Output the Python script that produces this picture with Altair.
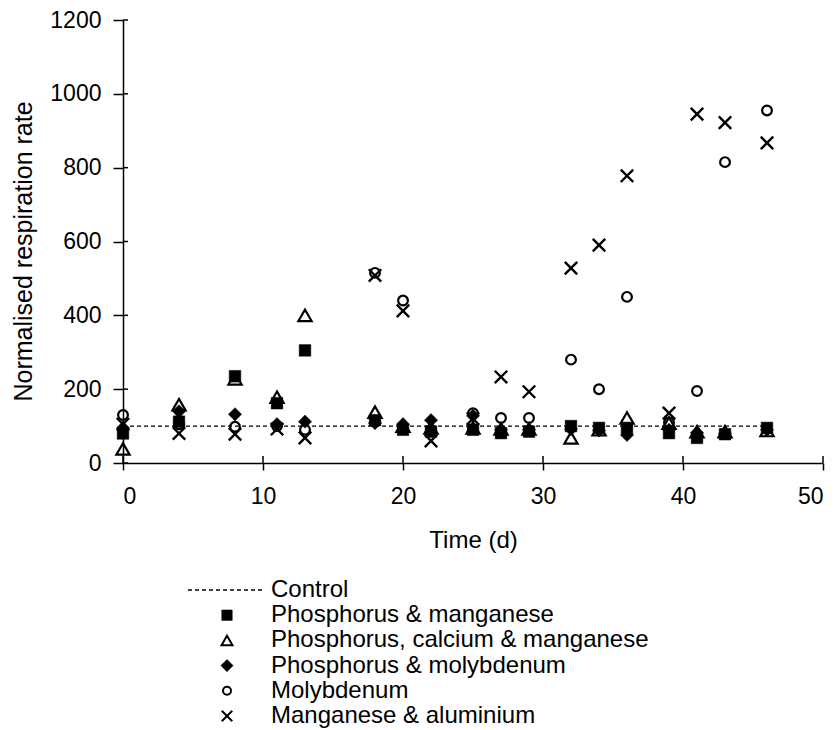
import altair as alt
import pandas as pd

# ---- data ----
times = [0, 4, 8, 11, 13, 18, 20, 22, 25, 27, 29, 32, 34, 36, 39, 41, 43, 46]
p_mn = [80, 112, 235, 162, 305, 116, 90, 85, 90, 81, 85, 100, 95, 95, 81, 68, 78, 95]
p_ca_mn = [38, 158, 228, 178, 400, 138, 100, 95, 95, 92, 92, 68, 90, 122, 108, 85, 85, 88]
p_mo = [95, 140, 132, 105, 112, 108, 105, 116, 128, 90, 90, 92, 88, 76, 90, 82, 80, 90]
mo = [130, 105, 98, 100, 90, 515, 440, 90, 135, 122, 122, 280, 200, 450, 110, 195, 815, 955]
mn_al = [105, 80, 78, 92, 68, 508, 412, 60, 120, 233, 193, 528, 590, 778, 135, 945, 922, 867]

control_t = [0, 46]
control_v = [100, 100]

x_ticks = [0, 10, 20, 30, 40, 50]
y_ticks = [0, 200, 400, 600, 800, 1000, 1200]

legend_labels = [
    "Control",
    "Phosphorus & manganese",
    "Phosphorus, calcium & manganese",
    "Phosphorus & molybdenum",
    "Molybdenum",
    "Manganese & aluminium",
]

FONT = "Liberation Sans"
X_PATH = "M-1,-1L1,1M-1,1L1,-1"

xscale = alt.Scale(domain=[0, 50], nice=False)
yscale = alt.Scale(domain=[0, 1200], nice=False)

x_axis = alt.Axis(
    values=x_ticks, format="d", tickSize=7, tickWidth=1.5, tickColor="black",
    domainColor="black", domainWidth=1.5, grid=False,
    labelFont=FONT, labelFontSize=23, labelColor="black", labelPadding=15,
    title="Time (d)", titleFont=FONT, titleFontSize=24, titleFontWeight="normal",
    titleColor="black", titlePadding=20,
)
y_axis = alt.Axis(
    values=y_ticks, format="d", tickSize=10, tickWidth=1.5, tickColor="black",
    domainColor="black", domainWidth=1.5, grid=False,
    labelFont=FONT, labelFontSize=23, labelColor="black", labelPadding=12,
    title="Normalised respiration rate", titleFont=FONT, titleFontSize=25,
    titleFontWeight="normal", titleColor="black", titlePadding=13, titleY=231,
)

X = lambda f: alt.X(f, scale=xscale, axis=x_axis)
Y = lambda f: alt.Y(f, scale=yscale, axis=y_axis)


def series_df(vals):
    return pd.DataFrame({"t": times, "v": vals})


ctrl = alt.Chart(pd.DataFrame({"t": control_t, "v": control_v})).mark_line(
    color="black", strokeWidth=1.3, strokeDash=[4, 3]
).encode(x=X("t:Q"), y=Y("v:Q"))


def pts(vals, shape, filled, size, sw=2.2):
    kw = dict(shape=shape, size=size, opacity=1)
    if filled:
        kw.update(filled=True, fill="black", stroke="black", strokeWidth=0.5)
    else:
        kw.update(filled=False, stroke="black", strokeWidth=sw)
    return alt.Chart(series_df(vals)).mark_point(**kw).encode(x=X("t:Q"), y=Y("v:Q"))


tri = pts(p_ca_mn, "triangle-up", False, 175)
circ = pts(mo, "circle", False, 95)
xs = pts(mn_al, X_PATH, False, 155, 2.4)
dia = pts(p_mo, "diamond", True, 175)
sq = pts(p_mn, "square", True, 135)

ytick_in = alt.Chart(pd.DataFrame({"v": y_ticks})).mark_rule(
    color="black", strokeWidth=1.5
).encode(y=Y("v:Q"), x=alt.value(0), x2=alt.value(5))

xtick_in = alt.Chart(pd.DataFrame({"t": x_ticks})).mark_rule(
    color="black", strokeWidth=1.5
).encode(x=X("t:Q"), y=alt.value(436), y2=alt.value(443))

data_layer = alt.layer(ctrl, ytick_in, xtick_in, tri, circ, xs, dia, sq)

# ---- manual legend below the plot ----
leg_df = pd.DataFrame({"row": list(range(len(legend_labels))), "label": legend_labels})
rowscale = alt.Scale(domain=[0, 5], range=[570, 696])

leg_text = alt.Chart(leg_df).mark_text(
    align="left", baseline="middle", font=FONT, fontSize=24, color="black"
).encode(
    x=alt.value(148), y=alt.Y("row:Q", scale=rowscale, axis=None), text="label:N"
)

leg_line = alt.Chart(leg_df[leg_df.row == 0]).mark_rule(
    color="black", strokeWidth=1.3, strokeDash=[4, 3]
).encode(x=alt.value(65), x2=alt.value(139), y=alt.Y("row:Q", scale=rowscale, axis=None))


def leg_sym(row, shape, filled, size, sw=2.0):
    kw = dict(shape=shape, size=size, opacity=1)
    if filled:
        kw.update(filled=True, fill="black", stroke="black", strokeWidth=0.5)
    else:
        kw.update(filled=False, stroke="black", strokeWidth=sw)
    return alt.Chart(leg_df[leg_df.row == row]).mark_point(**kw).encode(
        x=alt.value(104), y=alt.Y("row:Q", scale=rowscale, axis=None)
    )


legend_layer = alt.layer(
    leg_line,
    leg_sym(1, "square", True, 110),
    leg_sym(2, "triangle-up", False, 120),
    leg_sym(3, "diamond", True, 150),
    leg_sym(4, "circle", False, 64),
    leg_sym(5, X_PATH, False, 110),
    leg_text,
)

chart = alt.layer(data_layer, legend_layer).resolve_scale(y="independent").properties(
    width=700,
    height=443,
    padding={"left": 123, "top": 20, "right": 16, "bottom": 267},
    autosize=alt.AutoSizeParams(type="none"),
    background="white",
).configure_view(stroke=None)

chart.save("out.html", embed_options={"renderer": "svg", "actions": False})
